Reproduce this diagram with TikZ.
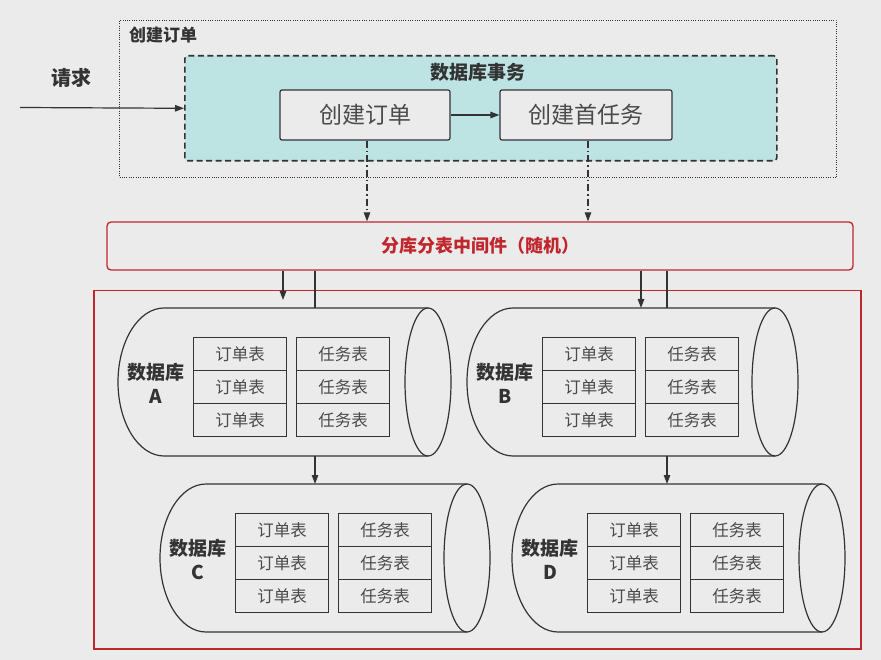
\documentclass[tikz,border=0pt]{standalone}
\usepackage{fontspec}
\setmainfont{Noto Sans CJK SC}
\usetikzlibrary{arrows.meta}
\definecolor{bgc}{HTML}{EBEBEB}
\definecolor{tealf}{HTML}{BEE3E3}
\definecolor{redc}{HTML}{C0262C}
\definecolor{ink}{HTML}{333333}
\definecolor{txtg}{HTML}{4A4A4A}
\newcommand\dbcyl[5]{%
  \draw[cylline] (#4,#3) -- ({#2+46},#3) arc[start angle=270,end angle=90,x radius=46,y radius=74] -- (#4,{#3+148});
  \draw[cylline] (#4,{#3+74}) ellipse[x radius=23,y radius=74];
  \node[inner sep=0pt,minimum width={#4+23-#2},minimum height=148,anchor=north west] (#1) at (#2,#3) {};
  \node[dblabel] (#1-lbl) at ({#2+38},{#3+75}) {数据库\\#5};
  \foreach \r in {0,1,2} {
    \node[tblcell,anchor=north west] (#1-o\r) at ({#2+75},{#3+29+33*\r}) {订单表};
    \node[tblcell,anchor=north west] (#1-t\r) at ({#2+178},{#3+29+33*\r}) {任务表};
  }
}
\begin{document}
\begin{tikzpicture}[x=1pt,y=-1pt,
  dotbox/.style={draw=ink,line width=1pt,dash pattern=on 1pt off 1.3pt,inner sep=0pt},
  txbox/.style={draw=ink,fill=tealf,line width=1.6pt,dash pattern=on 6pt off 3.5pt,rounded corners=3pt,inner sep=0pt},
  stepbox/.style={draw=ink,fill=bgc,line width=1.2pt,rounded corners=2pt,inner sep=0pt,font=\fontsize{23}{26}\selectfont,text=txtg},
  mwbox/.style={draw=redc,fill=bgc,line width=1.3pt,rounded corners=4pt,inner sep=0pt,font=\bfseries\fontsize{18}{22}\selectfont,text=redc},
  redframe/.style={draw=redc,line width=1.5pt},
  cylline/.style={draw=ink,line width=1.2pt},
  dblabel/.style={font=\bfseries\fontsize{19}{24}\selectfont,text=ink,align=center,inner sep=0pt},
  tblcell/.style={draw=ink,line width=1.1pt,minimum width=93,minimum height=33,inner sep=0pt,font=\fontsize{16.5}{18}\selectfont,text=txtg},
  arr/.style={draw=ink,line width=1.2pt,-{Triangle[length=9pt,width=6.5pt]}},
  plain/.style={draw=ink,line width=1.2pt},
  dd/.style={draw=ink,line width=1.1pt,dash pattern=on 7pt off 3pt on 1.5pt off 3pt,-{Triangle[length=9pt,width=6.5pt]}},
  lbl/.style={font=\bfseries\fontsize{19}{22}\selectfont,text=ink,inner sep=0pt}
]
\useasboundingbox (0,0) rectangle (881,660);
\fill[bgc] (0,0) rectangle (881,660);

% top region
\node[dotbox,minimum width=717,minimum height=157,anchor=north west] (outer) at (119,20) {};
\node[lbl,font=\bfseries\fontsize{17}{20}\selectfont,anchor=west] (outerlbl) at (129,35) {创建订单};
\node[txbox,minimum width=592,minimum height=105,anchor=north west] (tx) at (184,55) {};
\node[lbl] (txtitle) at (478,72) {数据库事务};
\node[stepbox,minimum width=170,minimum height=50] (b1) at (365,115) {创建订单};
\node[stepbox,minimum width=172,minimum height=50] (b2) at (586,115) {创建首任务};
\draw[arr] (b1) -- (b2);
\node[lbl,font=\bfseries\fontsize{20}{24}\selectfont] (req) at (71,78) {请求};
\coordinate (reqstart) at (20,107.5);
\draw[arr] (reqstart) -- (tx.west);

% middleware
\node[mwbox,minimum width=746,minimum height=48] (mw) at (480,246) {分库分表中间件（随机）};
\coordinate (d1) at ([xshift=2pt]b1.south);
\coordinate (d2) at ([xshift=2pt]b2.south);
\draw[dd] (d1) -- (mw.north -| d1);
\draw[dd] (d2) -- (mw.north -| d2);

% red frame
\node[redframe,minimum width=767,minimum height=358,anchor=north west,inner sep=0pt] (frame) at (93,290) {};

% databases
\dbcyl{cylA}{118}{308}{428}{A}
\dbcyl{cylB}{467}{308}{775}{B}
\dbcyl{cylC}{160}{484}{467}{C}
\dbcyl{cylD}{512}{484}{822}{D}

\coordinate (inA) at (283,300);
\coordinate (topA) at (315,308);
\coordinate (inB) at (641,308);
\coordinate (topB) at (667,308);
\draw[arr] (mw.south -| inA) -- (inA);
\draw[plain] (mw.south -| topA) -- (topA);
\draw[arr] (mw.south -| inB) -- (inB);
\draw[plain] (mw.south -| topB) -- (topB);
\draw[arr] (cylA.south -| topA) -- (cylC.north -| topA);
\draw[arr] (cylB.south -| topB) -- (cylD.north -| topB);
\end{tikzpicture}
\end{document}
